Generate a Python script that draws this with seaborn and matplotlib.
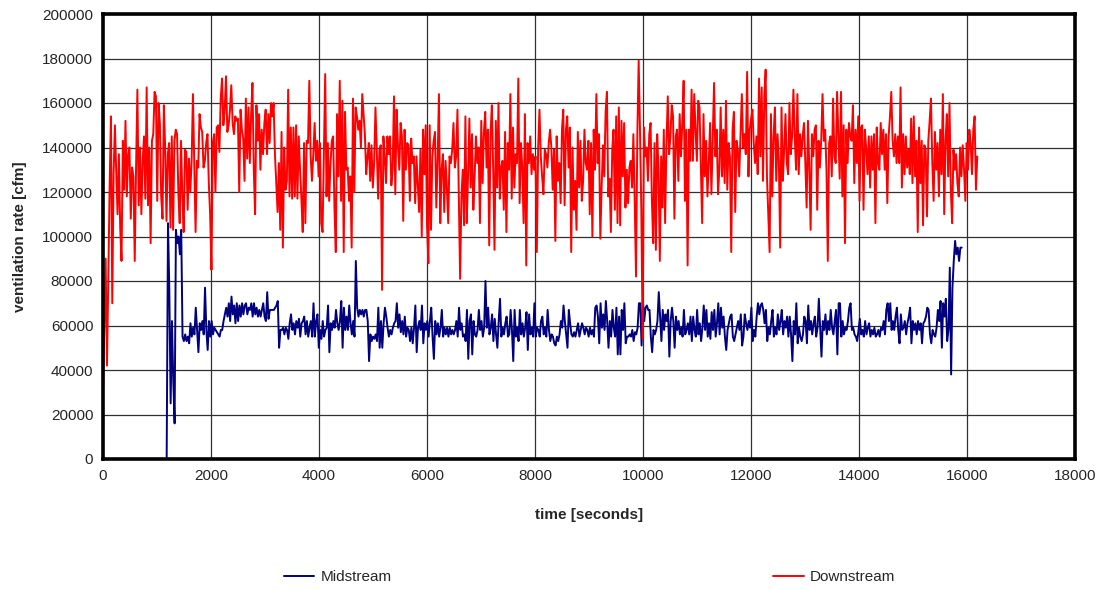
import numpy as np
import pandas as pd
import matplotlib
matplotlib.use("Agg")
import matplotlib.pyplot as plt
import seaborn as sns

# ---- data (ventilation rate in thousands of cfm, sampled uniformly) ----
downstream_t_start, downstream_t_end = 0, 16190
midstream_t_start, midstream_t_end = 1179, 15902

downstream_k = [
    30, 60, 90, 42, 80, 122, 154, 70,
    128, 150, 129, 110, 137, 104, 89, 143, 121, 152, 118, 137, 140, 108, 131, 127, 89, 131, 166, 114,
    140, 110, 134, 145, 117, 167, 114, 140, 97, 143, 146, 165, 163, 116, 160, 151, 118, 108, 159, 140,
    107, 137, 142, 104, 145, 103, 143, 148, 146, 119, 106, 143, 118, 102, 139, 138, 112, 135, 120, 134,
    164, 134, 102, 134, 131, 155, 149, 147, 131, 134, 142, 146, 124, 110, 85, 142, 146, 120, 149, 150,
    138, 162, 171, 150, 157, 172, 147, 150, 157, 168, 151, 146, 154, 152, 153, 120, 157, 148, 144, 125,
    162, 135,
    158, 133, 155, 169, 130, 110, 159, 143, 155, 130, 148, 137, 151, 157, 137, 155, 142, 160, 154, 160,
    137, 124, 111, 133, 103, 147, 95, 140, 121, 125, 166, 118, 149, 117, 149, 118, 150, 117, 145, 130,
    117, 102, 142, 106, 143, 142, 170, 136, 125, 137, 151, 134, 143, 127, 142, 106, 102, 139, 173, 118,
    142, 116, 133, 143, 145, 113, 93, 155, 127, 170, 116, 161, 93, 156, 130, 131, 116, 127, 95, 162,
    120, 158, 154, 148, 152, 140, 164, 155, 146, 128, 136, 142, 125, 141, 122, 133, 158, 139, 117, 139,
    141, 76, 145, 136, 124, 145, 137, 145, 123, 130, 163, 119, 157, 141, 130,
    151, 145, 107, 148, 130, 142, 141, 116, 144, 133, 136, 115, 136, 124, 111, 139, 100, 148, 128, 150,
    105, 88, 150, 103, 136, 143, 147, 113, 134, 164, 106, 130, 137, 111, 134, 122, 106, 136, 133, 139,
    151, 131, 136, 157, 119, 81, 118, 130, 105, 154, 106, 127, 153, 122, 146, 112, 127, 145, 133, 140,
    106, 152, 124, 147, 156, 131, 148, 96, 146, 159, 130, 94, 152, 122, 160, 117, 131, 134, 112, 147,
    102, 142, 130, 164, 117, 149, 122, 137, 133, 171, 115, 142, 131, 106, 155, 87, 142, 133, 145, 128,
    137, 130, 136, 93, 140, 157, 136, 127, 119, 139, 137, 131, 142, 148,
    140, 121, 139, 98, 145, 125, 133, 115, 148, 157, 114, 148, 154, 131, 149, 93, 140, 112, 125, 103,
    147, 122, 143, 116, 125, 148, 133, 130, 143, 110, 142, 100, 148, 130, 164, 133, 146, 99, 122, 141,
    127, 156, 165, 118, 126, 102, 139, 148, 112, 154, 106, 158, 105, 152, 127, 151, 113, 130, 115, 131,
    134, 122, 146, 116, 82, 146, 179, 148, 112, 54, 149, 136, 140, 125, 146, 151, 116, 97, 142, 94,
    146, 130, 89, 136, 113, 148, 106, 141, 163, 137, 145, 159, 154, 108, 145, 148, 125, 155, 136, 151,
    170, 116, 148, 87, 148, 134, 166, 134, 164, 148, 134, 161, 158, 133, 106, 155,
    127, 143, 118, 133, 151, 119, 143, 169, 136, 148, 119, 130, 158, 127, 148, 124, 161, 121, 142, 136,
    93, 148, 156, 111, 143, 139, 127, 145, 164, 140, 146, 137, 174, 127, 148, 153, 157, 142, 133, 145,
    128, 171, 136, 167, 125, 163, 175, 127, 110, 93, 155, 118, 145, 158, 125, 146, 134, 95, 158, 125,
    139, 155, 133, 128, 160, 137, 145, 166, 145, 130, 164, 128, 146, 136, 145, 151, 133, 113, 152, 131,
    103, 146, 136, 148, 150, 112, 143, 131, 143, 164, 143, 148, 130, 89, 142, 145, 127, 162, 136, 133,
    165, 146, 126, 165, 118, 150, 97, 148, 133, 151, 145, 143, 159,
    124, 148, 133, 154, 116, 149, 150, 112, 148, 140, 128, 145, 122, 145, 130, 146, 106, 149, 133, 130,
    151, 137, 148, 130, 146, 115, 145, 154, 165, 143, 136, 146, 133, 145, 133, 167, 122, 146, 128, 145,
    131, 139, 128, 153, 124, 154, 127, 143, 102, 149, 124, 143, 105, 141, 139, 109, 143, 152, 162, 133,
    116, 147, 130, 142, 118, 148, 128, 164, 110, 143, 155, 127, 160, 121, 106, 139, 130, 137, 124, 118,
    140, 127, 141, 130, 116, 142, 130, 148, 142, 128, 148, 154, 121, 136,
]

midstream_k = [
    0, 106, 76, 25, 62, 35, 16, 103, 97, 100, 92, 103,
    55, 53, 56, 53, 55, 52, 61, 55, 59, 56, 68, 58, 48, 61, 58, 62, 56, 77, 58, 49,
    62, 55, 62, 56, 59, 58, 57, 56, 55, 58, 58, 62, 65, 68, 64, 70, 62, 73, 65, 69,
    61, 70, 62, 69, 64, 70, 65, 69, 70, 65, 68, 67, 70, 64, 70, 65, 68, 64, 67, 64,
    67, 70, 64, 62, 75, 63, 67, 67, 67, 67, 68, 69, 71, 50, 58, 58, 59, 56, 59, 58,
    54, 61, 65, 58, 61, 56, 62, 59, 63, 55, 61, 62,
    64, 56, 62, 55, 59, 62, 55, 70, 55, 62, 65, 50, 58, 54, 62, 55, 58, 59, 69, 48,
    61, 58, 62, 59, 67, 61, 58, 62, 71, 50, 68, 58, 64, 58, 69, 61, 56, 62, 55, 89,
    68, 64, 67, 65, 67, 64, 67, 67, 62, 44, 56, 53, 55, 54, 56, 53, 68, 50, 62, 50,
    61, 68, 64, 59, 55, 58, 56, 59, 61, 62, 70, 59, 65, 57, 62, 56, 64, 55, 59, 58,
    53, 59, 52, 59, 69, 48, 59, 62, 58, 69, 52, 61, 58, 62, 55, 62, 68, 55, 45, 62,
    56, 61, 55, 59, 67, 55, 59, 56, 59, 55, 59, 56, 58,
    56, 58, 62, 55, 68, 58, 61, 55, 56, 53, 67, 45, 62, 65, 47, 62, 56, 55, 58, 67,
    58, 62, 55, 59, 80, 59, 68, 56, 59, 65, 53, 63, 56, 50, 62, 72, 55, 59, 56, 61,
    64, 55, 56, 67, 58, 44, 67, 55, 59, 53, 67, 56, 61, 55, 59, 66, 49, 65, 56, 59,
    55, 70, 55, 59, 58, 55, 62, 64, 56, 59, 55, 67, 58, 53, 56, 55, 52, 51, 55, 53,
    56, 62, 59, 69, 62, 56, 50, 67, 61, 56, 55, 57, 55, 58, 61, 55, 58, 61, 59, 56,
    59, 58, 55, 59, 56, 58, 55, 68, 69, 64, 52, 70, 59,
    65, 58, 71, 62, 50, 62, 55, 67, 59, 55, 68, 47, 64, 47, 67, 58, 70, 52, 55, 55,
    56, 55, 58, 53, 57, 56, 59, 70, 70, 51, 71, 62, 68, 69, 67, 67, 55, 48, 58, 56,
    58, 62, 75, 64, 53, 67, 58, 65, 62, 67, 46, 62, 68, 62, 50, 64, 58, 62, 56, 59,
    55, 67, 56, 58, 61, 56, 64, 53, 64, 58, 55, 67, 56, 61, 53, 59, 69, 58, 67, 55,
    61, 54, 66, 58, 67, 55, 61, 70, 56, 68, 59, 64, 55, 49, 58, 61, 64, 65, 55, 53,
    56, 59, 62, 58, 65, 51, 55, 65, 61, 58, 62, 59, 68,
    53, 58, 55, 64, 70, 65, 69, 70, 67, 61, 67, 53, 59, 56, 62, 67, 55, 59, 56, 65,
    58, 62, 67, 56, 62, 59, 64, 55, 64, 56, 44, 62, 56, 70, 52, 59, 55, 53, 56, 64,
    62, 52, 69, 58, 62, 56, 61, 64, 55, 59, 72, 59, 46, 62, 58, 65, 56, 62, 58, 67,
    59, 56, 62, 67, 47, 70, 70, 55, 62, 56, 59, 58, 62, 68, 70, 58, 59, 56, 55, 53,
    58, 63, 56, 58, 55, 62, 56, 59, 61, 55, 58, 56, 59, 55, 56, 58, 55, 59, 58, 62,
    56, 67, 70, 62, 70, 58, 62, 58, 64, 68, 58, 52, 65,
    58, 59, 62, 56, 61, 64, 68, 52, 62, 58, 61, 56, 62, 58, 61, 52, 61, 62, 64, 68,
    67, 56, 52, 58, 56, 55, 59, 67, 62, 71, 50, 70, 64, 72, 53, 58, 86, 38, 77, 89,
    98, 92, 95, 89, 95, 95,
]

x_ticks = list(range(0, 18001, 2000))
y_ticks = list(range(0, 200001, 20000))

# ---- build frames ----
down_df = pd.DataFrame({
    "time": np.linspace(downstream_t_start, downstream_t_end, len(downstream_k)),
    "rate": np.array(downstream_k) * 1000.0,
})
mid_df = pd.DataFrame({
    "time": np.linspace(midstream_t_start, midstream_t_end, len(midstream_k)),
    "rate": np.array(midstream_k) * 1000.0,
})

sns.set_theme(style="white")
plt.rcParams['font.family'] = ['Liberation Sans', 'DejaVu Sans']

fig = plt.figure(figsize=(11.06, 5.9), dpi=100)
ax = fig.add_axes([103 / 1106, 1 - 459 / 590, (1075 - 103) / 1106, (459 - 14) / 590])

sns.lineplot(data=mid_df, x="time", y="rate", color="#000080", linewidth=1.4,
             estimator=None, sort=False, ax=ax, label="Midstream")
sns.lineplot(data=down_df, x="time", y="rate", color="#FF0000", linewidth=1.4,
             estimator=None, sort=False, ax=ax, label="Downstream")

ax.set_xlim(0, 18000)
ax.set_ylim(0, 200000)
ax.set_xticks(x_ticks)
ax.set_yticks(y_ticks)
ax.set_xticklabels([str(v) for v in x_ticks])
ax.set_yticklabels([str(v) for v in y_ticks])
ax.grid(True, color="#303030", linewidth=0.9)
ax.set_axisbelow(True)
for s in ax.spines.values():
    s.set_visible(True)
    s.set_color("black")
    s.set_linewidth(2.6)
ax.tick_params(axis="both", direction="out", length=4, width=1, color="black",
               labelsize=11, pad=3)

ax.set_xlabel("time [seconds]", fontsize=11, fontweight="bold", labelpad=18)
ax.set_ylabel("ventilation rate [cfm]", fontsize=11, fontweight="bold", labelpad=11)

handles, labels = ax.get_legend_handles_labels()
ax.get_legend().remove()
fig.legend(handles, labels, loc="center", bbox_to_anchor=(0.533, 0.022), ncol=2,
           frameon=False, fontsize=11, handlelength=2.0, columnspacing=25,
           handletextpad=0.4)

fig.savefig("out.png", dpi=100, facecolor="white")
